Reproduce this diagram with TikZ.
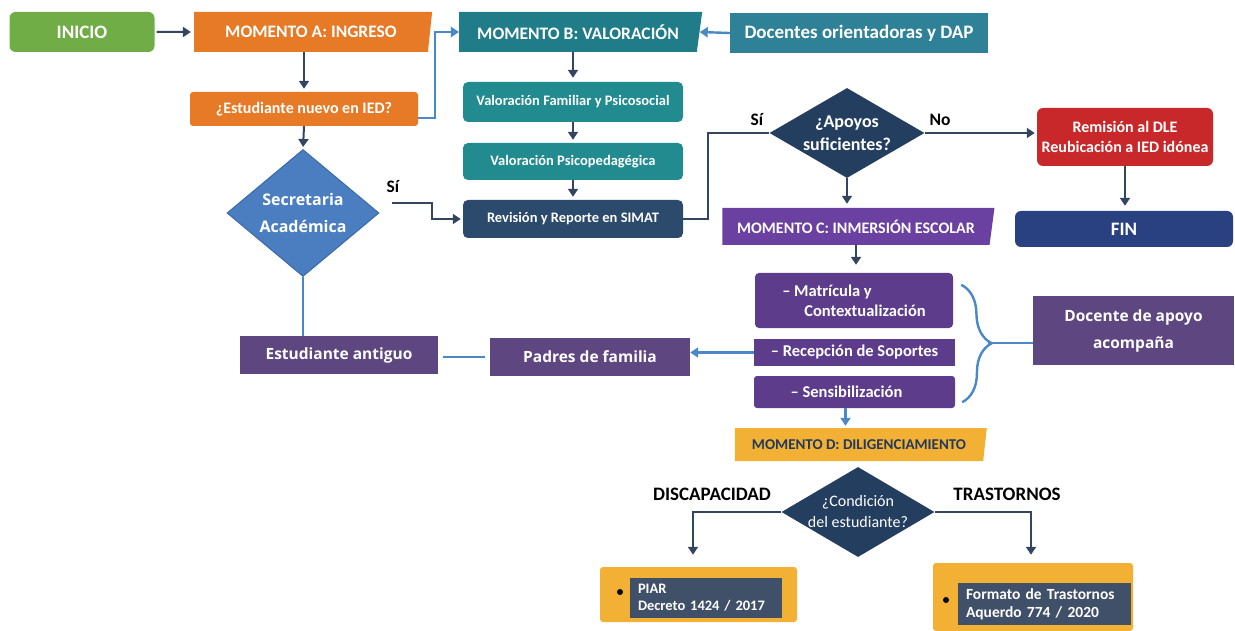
\documentclass[tikz,border=0pt]{standalone}
\usepackage{fontspec}
\setmainfont{Carlito}
\newfontfamily\opensans{Open Sans}
\usetikzlibrary{shapes.geometric}
\usetikzlibrary{arrows.meta}
\usetikzlibrary{decorations.pathreplacing}
\usetikzlibrary{calc}
\newcommand{\tam}[2]{\fontsize{#1}{#2}\selectfont\bfseries}
\definecolor{verde}{HTML}{70AD47}
\definecolor{naranja}{HTML}{E67A26}
\definecolor{tealA}{HTML}{1F7C88}
\definecolor{tealB}{HTML}{2E8196}
\definecolor{tealC}{HTML}{218B8F}
\definecolor{marino}{HTML}{2B4A6C}
\definecolor{marinoD}{HTML}{233E5E}
\definecolor{rojo}{HTML}{C8282A}
\definecolor{azulfin}{HTML}{2A4181}
\definecolor{moradoC}{HTML}{6A40A0}
\definecolor{moradoM}{HTML}{5E3C8C}
\definecolor{moradoP}{HTML}{5E4680}
\definecolor{secret}{HTML}{4A7EC0}
\definecolor{secretborde}{HTML}{3B6AA5}
\definecolor{celeste}{HTML}{4A88C8}
\definecolor{oscuro}{HTML}{34465F}
\definecolor{amarillo}{HTML}{F2B134}
\definecolor{textoD}{HTML}{233A5C}
\definecolor{pizarra}{HTML}{405069}

\begin{document}
\begin{tikzpicture}[x=1pt,y=-1pt,
        caja/.style={rectangle,inner sep=0pt,text=white,align=center},
        momento/.style={trapezium,trapezium left angle=90,trapezium right angle=110,trapezium stretches body,inner sep=0pt,text=white},
        decision/.style={diamond,inner sep=0pt},
        rotulo/.style={text=white,align=center},
        punta/.style={-{Triangle[length=8pt,width=10pt]}},
        flecha/.style={draw=oscuro,line width=2pt,punta},
        linea/.style={draw=oscuro,line width=2pt},
        azul/.style={draw=celeste,line width=2.4pt}]
        \useasboundingbox (0,0) rectangle (1235,631);
        \node[caja,fill=verde,rounded corners=6pt,minimum width=145pt,minimum height=40pt,font=\tam{19}{20}] (inicio) at (82,32) {INICIO};
        \node[momento,fill=naranja,minimum width=238pt,minimum height=40pt,font=\tam{17.5}{20}] (mA) at (311,32) {MOMENTO A: INGRESO};
        \node[caja,fill=naranja,rounded corners=3pt,minimum width=228pt,minimum height=34pt,font=\tam{16}{18}] (nuevo) at (304,109) {¿Estudiante nuevo en IED?};
        \node[momento,fill=tealA,minimum width=243pt,minimum height=40pt,font=\tam{17.5}{20}] (mB) at (578,32) {MOMENTO B: VALORACIÓN};
        \node[caja,fill=tealB,minimum width=258pt,minimum height=40pt,font=\tam{19}{20}] (docentes) at (859,33) {Docentes orientadoras y DAP};
        \node[caja,fill=tealC,rounded corners=5pt,minimum width=220pt,minimum height=40pt,font=\tam{14.5}{16}] (vf) at (573,102) {Valoración Familiar y Psicosocial};
        \node[caja,fill=tealC,rounded corners=5pt,minimum width=220pt,minimum height=37pt,font=\tam{14.5}{16}] (vp) at (573,161.5) {Valoración Psicopedagégica};
        \node[caja,fill=marino,rounded corners=5pt,minimum width=220pt,minimum height=38pt,font=\tam{14.5}{16}] (simat) at (573,219) {Revisión y Reporte en SIMAT};
        \node[decision,fill=secret,draw=secretborde,line width=1pt,minimum width=152pt,minimum height=127pt,label={[rotulo,font=\opensans\bfseries\fontsize{16}{27}\selectfont]center:Secretaria\\Académica}] (secretaria) at (303,213) {};
        \node[decision,fill=marinoD,minimum width=155pt,minimum height=90pt,label={[rotulo,font=\tam{18}{23}]center:¿Apoyos\\suficientes?}] (apoyos) at (847,133) {};
        \node[caja,fill=rojo,rounded corners=6pt,minimum width=176pt,minimum height=58pt,font=\tam{16}{20}] (remision) at (1125,137) {Remisión al DLE\\Reubicación a IED idónea};
        \node[caja,fill=azulfin,rounded corners=6pt,minimum width=218pt,minimum height=36pt,font=\tam{19}{20}] (fin) at (1124,229) {FIN};
        \node[momento,fill=moradoC,minimum width=272pt,minimum height=37pt,font=\tam{16}{18}] (mC) at (856,226.5) {MOMENTO C: INMERSIÓN ESCOLAR};
        \node[caja,fill=moradoM,rounded corners=4pt,minimum width=198pt,minimum height=55pt,font=\tam{16.5}{20},align=left] (matricula) at (854,300.5) {-- Matrícula y\\\hspace*{22pt}Contextualización};
        \node[caja,fill=moradoM,minimum width=201pt,minimum height=27pt,font=\tam{16.5}{18}] (recepcion) at (854.5,352.5) {-- Recepción de Soportes};
        \node[caja,fill=moradoM,rounded corners=3pt,minimum width=201pt,minimum height=32pt,font=\tam{16.5}{18}] (sensib) at (854.5,392) {\hspace*{-16pt}-- Sensibilización};
        \node[caja,fill=moradoP,minimum width=201pt,minimum height=69pt,font=\opensans\bfseries\fontsize{15.5}{27}\selectfont] (docapoyo) at (1133.5,330.5) {Docente de apoyo\\acompaña};
        \node[caja,fill=moradoP,minimum width=200pt,minimum height=38pt,font=\opensans\bfseries\fontsize{15.5}{16}\selectfont] (padres) at (590,357) {Padres de familia};
        \node[caja,fill=moradoP,minimum width=198pt,minimum height=38pt,font=\opensans\bfseries\fontsize{15.5}{16}\selectfont] (antiguo) at (339,355) {Estudiante antiguo};
        \node[momento,fill=amarillo,text=textoD,minimum width=252pt,minimum height=33pt,font=\tam{15}{16}] (mD) at (859,444.5) {MOMENTO D: DILIGENCIAMIENTO};
        \node[decision,fill=marinoD,minimum width=153pt,minimum height=90pt,label={[rotulo,font=\tam{16}{21}\mdseries]center:¿Condición\\del estudiante?}] (condicion) at (858,512) {};
        \node[caja,fill=amarillo,rounded corners=3pt,minimum width=197pt,minimum height=55pt] (piar) at (698.5,594.5) {};
        \node[caja,fill=pizarra,minimum width=152pt,minimum height=40pt,inner xsep=8pt,text width=136pt,align=left,font=\tam{14.5}{17}] (piartexto) at (706,598) {PIAR\\Decreto 1424 / 2017};
        \node[caja,fill=amarillo,rounded corners=3pt,minimum width=200pt,minimum height=68pt] (formato) at (1033,597) {};
        \node[caja,fill=pizarra,minimum width=173pt,minimum height=42pt,inner xsep=8pt,text width=157pt,align=left,font=\tam{15.5}{18}] (formatotexto) at (1044.5,604) {Formato de Trastornos\\Aquerdo 774 / 2020};
        \node[circle,fill=black,inner sep=0pt,minimum size=6pt] (bala1) at (620,592) {};
        \node[circle,fill=black,inner sep=0pt,minimum size=6pt] (bala2) at (946,600) {};
        \node[font=\tam{17.5}{18}] (si1) at (393,187) {Sí};
        \node[font=\tam{17.5}{18}] (si2) at (757,120) {Sí};
        \node[font=\tam{17.5}{18}] (no) at (940,120) {No};
        \node[font=\tam{19}{20}] (disc) at (712,494) {DISCAPACIDAD};
        \node[font=\tam{19}{20}] (tras) at (1007,494) {TRASTORNOS};
        \draw[flecha,shorten <=2pt,shorten >=3pt] (inicio.east) -- (mA.west);
        \draw[flecha,shorten >=3pt] (nuevo.north |- mA.south) -- (nuevo.north);
        \draw[azul,punta] ($(nuevo.east)+(0,9)$) -- ++(17,0) |- (mB.west);
        \draw[azul,punta] (docentes.west) -- (mB.east);
        \draw[flecha,shorten >=4pt] (vf.north |- mB.south) -- (vf.north);
        \draw[flecha,shorten >=3pt] (vf.south) -- (vp.north);
        \draw[flecha,shorten >=3pt] (vp.south) -- (simat.north);
        \draw[flecha,shorten >=2pt] (nuevo.south) -- (secretaria.north);
        \draw[flecha,shorten >=2pt] ($(secretaria.east)+(12,-10)$) -- ++(40,0) |- (simat.west);
        \draw[linea] (simat.east) -- ++(25,0) |- (apoyos.west);
        \draw[flecha,shorten >=2pt] (apoyos.east) -- (apoyos.east -| remision.west);
        \draw[flecha,shorten >=5pt] (remision.south) -- (remision.south |- fin.north);
        \draw[flecha,shorten >=4pt] (apoyos.south) -- (apoyos.south |- mC.north);
        \draw[flecha,shorten >=8pt] (mC.south) -- (mC.south |- matricula.north);
        \draw[azul,decorate,decoration={brace,amplitude=30pt}] ($(matricula.north east)+(8,12)$) -- ($(sensib.south east)+(7,-6)$);
        \coordinate (llave) at (988,343);
        \draw[azul] (llave) -- (llave -| docapoyo.west);
        \draw[azul,punta] (recepcion.west) -- (recepcion.west -| padres.east);
        \draw[azul,shorten <=5pt,shorten >=5pt] (padres.west) -- (padres.west -| antiguo.east);
        \draw[azul] (secretaria.south) -- (secretaria.south |- antiguo.north);
        \coordinate (bajada) at ($(sensib.south)+(-9,0)$);
        \draw[azul,punta,shorten >=2pt] (bajada) -- (bajada |- mD.north);
        \draw[flecha] (condicion.west) -| ($(piar.north)+(-5.5,-12)$);
        \draw[flecha] (condicion.east) -| ($(formato.north)+(-2,-8)$);
\end{tikzpicture}
\end{document}
